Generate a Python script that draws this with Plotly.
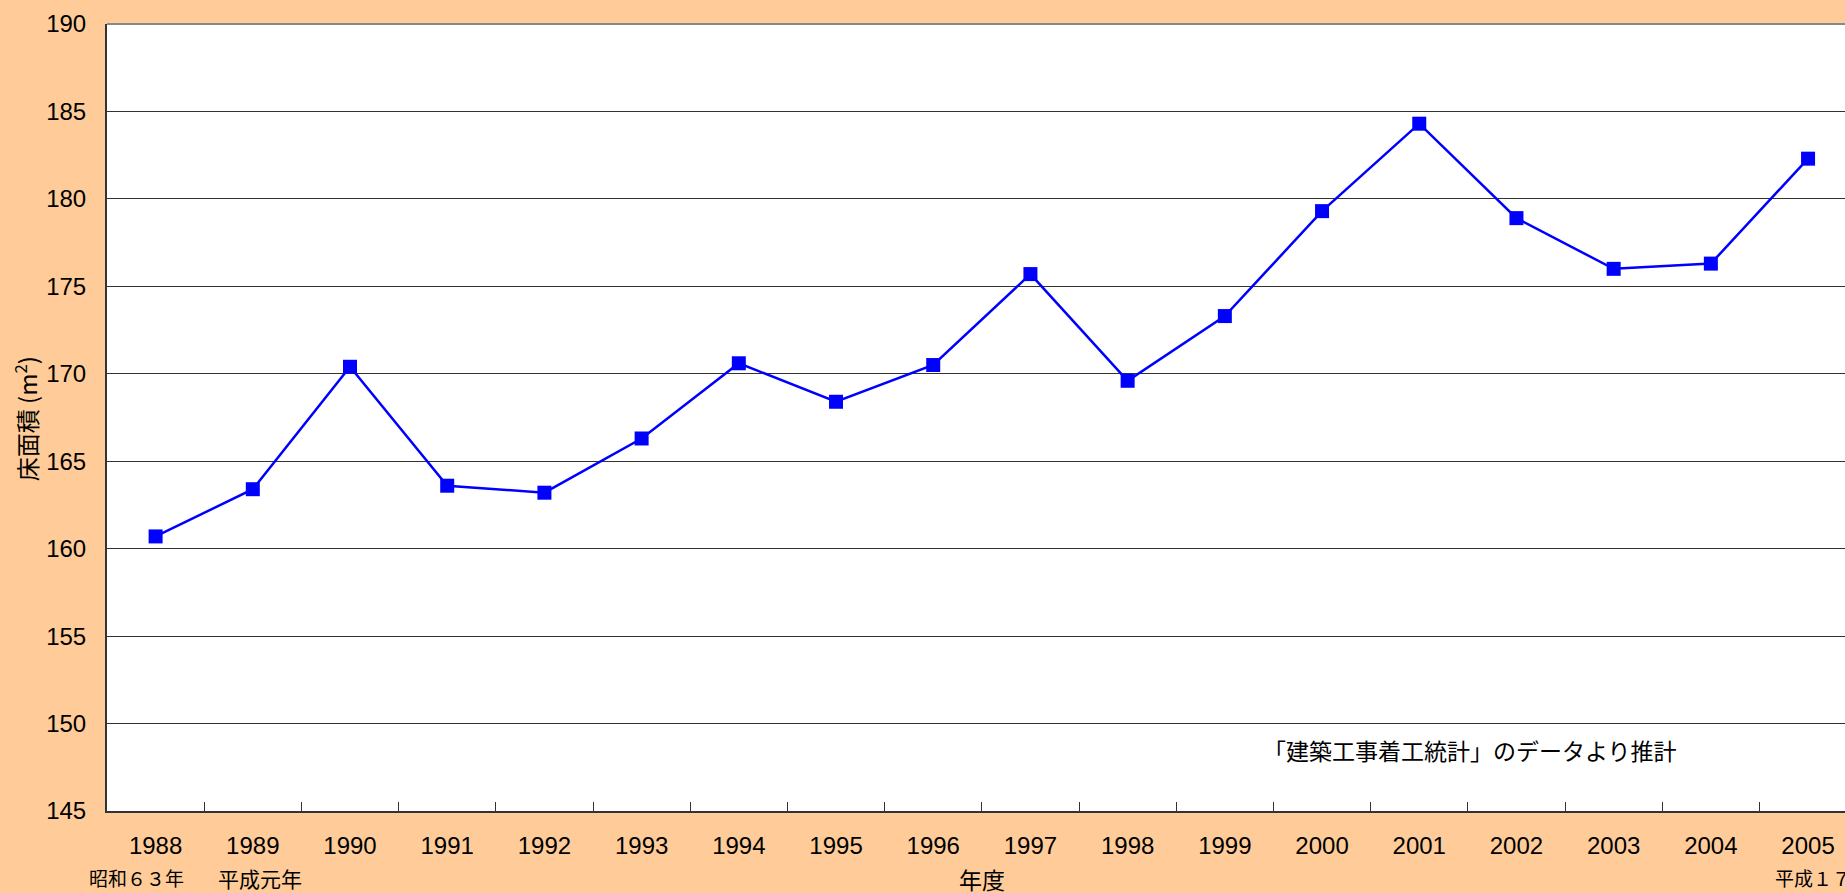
import plotly.graph_objects as go

# 年度 and floor area (m2)
years = ['1988', '1989', '1990', '1991', '1992', '1993', '1994', '1995', '1996',
         '1997', '1998', '1999', '2000', '2001', '2002', '2003', '2004', '2005']
floor_area = [160.7, 163.4, 170.4, 163.6, 163.2, 166.3, 170.6, 168.4, 170.5,
              175.7, 169.6, 173.3, 179.3, 184.3, 178.9, 176.0, 176.3, 182.3]

y_ticks = [145, 150, 155, 160, 165, 170, 175, 180, 185, 190]

JP = 'Noto Sans CJK JP'
fig = go.Figure()

fig.add_trace(go.Scatter(
    x=years, y=floor_area, mode='lines+markers',
    line=dict(color='#0000FF', width=2.5),
    marker=dict(symbol='square', size=14, color='#0000FF', line=dict(width=0)),
    showlegend=False,
))

fig.update_layout(
    width=1845, height=893,
    margin=dict(l=107, r=0, t=24, b=82),
    paper_bgcolor='#FFCC99',
    plot_bgcolor='#FFFFFF',
    font=dict(family='Liberation Sans, ' + JP, size=24, color='#000000'),
)

fig.update_xaxes(
    type='category', range=[-0.5, 17.38],
    tickson='boundaries', ticks='inside', ticklen=9, tickcolor='#333333', tickwidth=1,
    showline=True, linecolor='#333333', linewidth=2,
    showgrid=False, ticklabelstandoff=12,
)
fig.update_yaxes(
    range=[145, 190], tickvals=y_ticks,
    showgrid=True, gridcolor='#333333', gridwidth=1,
    showline=True, linecolor='#333333', linewidth=2,
    ticks='', ticklabelstandoff=14, zeroline=False,
)

# top border of plot area
fig.add_shape(type='line', xref='paper', yref='paper', x0=0, x1=1, y0=1, y1=1,
              line=dict(color='#888888', width=2))

notes = [
    dict(text='昭和６３年', x=0.0167, y=-0.085, xanchor='center', size=19),
    dict(text='平成元年', x=0.088, y=-0.085, xanchor='center', size=21),
    dict(text='平成１７年', x=0.9586, y=-0.085, xanchor='left', size=19),
    dict(text='年度', x=0.5035, y=-0.0864, xanchor='center', size=23),
    dict(text='「建築工事着工統計」のデータより推計', x=0.784, y=0.0775, xanchor='center', size=23),
]
for n in notes:
    fig.add_annotation(text=n['text'], x=n['x'], y=n['y'], xref='paper', yref='paper',
                       xanchor=n['xanchor'], yanchor='middle', showarrow=False,
                       font=dict(family=JP, size=n['size'], color='#000000'))

fig.add_annotation(text='床面積 (m<sup>2</sup>)', x=-0.0465, y=0.498, xref='paper', yref='paper',
                   textangle=-90, showarrow=False, xanchor='center', yanchor='middle',
                   font=dict(family=JP, size=24, color='#000000'))

fig.write_html('out.html', config={'displayModeBar': False},
               post_script="document.body.style.margin='0';")
